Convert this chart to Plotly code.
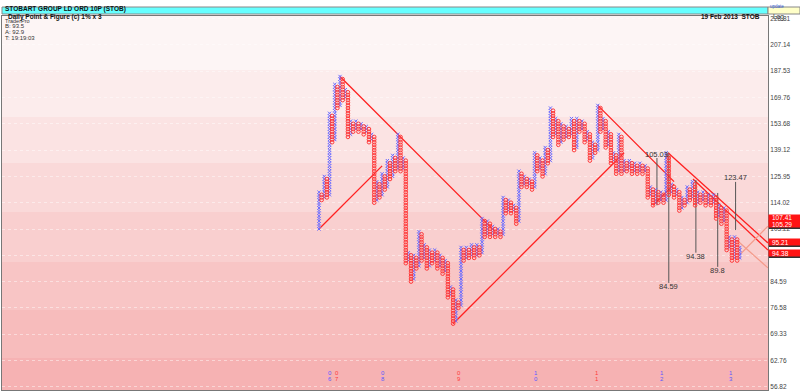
import numpy as np
import plotly.graph_objects as go

# ---------------- data ----------------
BASE_PRICE = 103.22        # price of box 0
BOX_STEP = 1.01            # 1% boxes, 3 box reversal
START_BOX = 0              # first X column starts here

# column turning points (box number of each column's extreme), X/O alternating, X first
turns_2007 = [14, 11, 20, 12, 44, 33, 55, 46, 58, 49, 53, 35,
              41, 37, 41, 37, 40, 36, 39, 33, 36, 10, 18, 12, 21, 15, 26, 19, 28, 22, 36, 22, 27]
turns_2008 = [-13, -9, -20, -10, -15, -1, -12, -6, -15, -8, -13, -8, -15, -10, -17, -12,
              -26, -22, -36, -27, -30, -7, -12, -7, -11, -6, -11, -6, -10]
turns_2010 = [4, -3, 3, -3, 1, -3, 0, -3, 12, 6, 11, 6, 9, 2, 22, 16, 20, 16, 19, 15,
              29, 22, 27, 20, 31, 25, 46, 35, 42, 32, 40, 34, 39, 35, 42, 30, 42, 37, 41, 33,
              37, 26, 33, 29, 47, 37, 42, 31, 37, 25, 29, 21]
turns_2012 = [36, 21, 26, 22, 26, 21, 25, 21, 25, 21, 24, 12, 16, 9, 15, 10, 14, 10, 29, 13,
              17, 12, 15, 7, 12, 9, 16, 11, 18, 9, 14, 10, 14, 9, 13, 9, 13, 4, 9, 2, 8, -8,
              -3, -12, -3, -12, -7]

tick_prices = [228.81, 207.14, 187.53, 169.76, 153.68, 139.12, 125.95, 114.02,
               103.22, 93.44, 84.59, 76.58, 69.33, 62.76, 56.82]

# 45 degree trend lines: (start column, end column, direction)
trend_cols = [(0, 24, 1), (8, 67, -1), (51, 116, 1), (106, 135, -1), (127, 135, 1)]
# other drawn lines: (col0, box0, col1, box1)
channel_lines = [(132.7, 29.0, 170.7, -5.3), (142.2, 19.0, 170.7, -8.0)]
projection_lines = [(158.8, -11.0, 170.7, 1.1), (158.8, -4.2, 170.7, -14.8)]
# vertical counts: (column, top box, bottom box, target label, label box)
count_targets = [(128.5, 27.0, 9.0, "105.03", 28.3),
                 (133.0, 29.0, -20.5, "84.59", -21.8),
                 (143.3, 18.6, -9.0, "94.38", -10.6),
                 (151.6, 13.7, -14.4, "89.8", -15.8),
                 (158.4, 17.9, -0.4, "123.47", 19.6)]
axis_flags = ["107.41", "105.29", "95.21", "94.38"]
axis_flag_px = [218, 224, 242, 253]
year_cols = [4.2, 6.8, 24.3, 53.2, 82.5, 105.7, 130.5, 156.6]
year_top = ["0", "0", "0", "0", "1", "1", "1", "1"]
year_bot = ["6", "7", "8", "9", "0", "1", "2", "3"]
year_col = ["#5a5aff", "#ff3b3b", "#5a5aff", "#ff3b3b", "#5a5aff", "#ff3b3b", "#5a5aff", "#5a5aff"]

# ---------------- build columns ----------------
turns = turns_2007 + turns_2008 + turns_2010 + turns_2012
xs_x, ks_x, xs_o, ks_o = [], [], [], []
prev = None
for i, t in enumerate(turns):
    if i % 2 == 0:
        a = START_BOX if prev is None else prev + 1
        for k in range(a, t + 1):
            xs_x.append(i); ks_x.append(k)
    else:
        for k in range(t, prev):
            xs_o.append(i); ks_o.append(k)
    prev = t


def price(k):
    return BASE_PRICE * BOX_STEP ** np.asarray(k, dtype=float)


# ---------------- layout geometry ----------------
W, H = 800, 391
ML, MR, MT, MB = 2, 32, 16, 1
PW, PH = W - ML - MR, H - MT - MB
X0 = 319.0
COLW = 2.63


def px(xp):
    return (xp - ML) / PW


def py(yp):
    return (H - MB - yp) / PH


x_range = [(ML - X0) / COLW, (W - MR - X0) / COLW]
k_top = (229 - MT) / COLW
k_bot = (229 - (H - MB)) / COLW
y_range = [np.log10(price(k_bot)), np.log10(price(k_top))]

fig = go.Figure()

# background bands
bands = [(16, 70, "#fdf5f5"), (70, 117, "#fcecec"), (117, 163, "#fbe3e3"),
         (163, 212, "#fad9d9"), (212, 262, "#f9cfcf"), (262, 310, "#f8c5c5"),
         (310, 358, "#f7bcbc"), (358, 390, "#f6b2b3")]
for y0, y1, c in bands:
    fig.add_shape(type="rect", xref="paper", yref="paper", x0=0, x1=1, y0=py(y1), y1=py(y0),
                  fillcolor=c, line_width=0, layer="below")

# trend lines
for c0, c1, d in trend_cols:
    k0 = (START_BOX if c0 == 0 else turns[c0])
    fig.add_trace(go.Scatter(x=[c0, c1], y=price([k0, k0 + d * (c1 - c0)]), mode="lines",
                             line=dict(color="#ff2020", width=1.3), hoverinfo="skip"))
for c0, k0, c1, k1 in channel_lines:
    fig.add_trace(go.Scatter(x=[c0, c1], y=price([k0, k1]), mode="lines",
                             line=dict(color="#ff2020", width=1.3), hoverinfo="skip"))
for c0, k0, c1, k1 in projection_lines:
    fig.add_trace(go.Scatter(x=[c0, c1], y=price([k0, k1]), mode="lines",
                             line=dict(color="#f49a8a", width=1.2), hoverinfo="skip"))

# vertical counts
for c, kt, kb, lab, kl in count_targets:
    fig.add_trace(go.Scatter(x=[c, c], y=price([kt, kb]), mode="lines",
                             line=dict(color="#555555", width=1), hoverinfo="skip"))
    fig.add_annotation(x=c, y=np.log10(price(kl)), text=lab, showarrow=False,
                       font=dict(size=7.5, color="#333333", family="Liberation Sans"))

# X and O columns
fig.add_trace(go.Scatter(x=xs_x, y=price(ks_x), mode="markers",
                         marker=dict(symbol="x-thin", size=3.2, line=dict(width=1, color="#6b6bff")),
                         hoverinfo="skip"))
fig.add_trace(go.Scatter(x=xs_o, y=price(ks_o), mode="markers",
                         marker=dict(symbol="circle-open", size=3.6, color="#ff3a3a",
                                     line=dict(width=1, color="#ff3a3a")),
                         hoverinfo="skip"))

# year labels
for c, t, b, col in zip(year_cols, year_top, year_bot, year_col):
    fig.add_annotation(x=c, y=py(378), yref="paper", text=t, showarrow=False,
                       font=dict(size=6, color=col, family="Liberation Sans"))
    fig.add_annotation(x=c, y=py(384), yref="paper", text=b, showarrow=False,
                       font=dict(size=6, color=col, family="Liberation Sans"))

# header
fig.add_shape(type="rect", xref="paper", yref="paper", x0=px(2), x1=px(768), y0=py(14), y1=py(7),
              fillcolor="#66ffff", line=dict(color="#888888", width=1))
fig.add_shape(type="rect", xref="paper", yref="paper", x0=px(768), x1=px(800), y0=py(14), y1=py(7),
              fillcolor="#ffffc8", line=dict(color="#888888", width=1))
fig.add_annotation(x=px(3), y=py(3.5), xref="paper", yref="paper", xanchor="left",
                   text="<b>STOBART GROUP LD ORD 10P (STOB)</b>", showarrow=False,
                   font=dict(size=6.5, color="#111111", family="Liberation Sans"))
fig.add_annotation(x=px(6), y=py(10.5), xref="paper", yref="paper", xanchor="left",
                   text="<b>Daily Point &amp; Figure (c) 1% x 3</b>", showarrow=False,
                   font=dict(size=6.5, color="#111111", family="Liberation Sans"))
fig.add_annotation(x=px(762), y=py(10.5), xref="paper", yref="paper", xanchor="right",
                   text="<b>19 Feb 2013  STOB</b>", showarrow=False,
                   font=dict(size=6.5, color="#111111", family="Liberation Sans"))
fig.add_annotation(x=px(771), y=py(10.5), xref="paper", yref="paper", xanchor="left",
                   text="Log", showarrow=False,
                   font=dict(size=6.5, color="#333333", family="Liberation Sans"))
fig.add_annotation(x=px(786), y=py(2.5), xref="paper", yref="paper",
                   text="update", showarrow=False,
                   font=dict(size=4.5, color="#3355cc", family="Liberation Sans"))
for yp, t in [(15.5, "TraderPro"), (21.5, "B: 93.5"), (27, "A: 92.9"), (33, "T: 19:19:03")]:
    fig.add_annotation(x=px(3), y=py(yp), xref="paper", yref="paper", xanchor="left",
                       text=t, showarrow=False,
                       font=dict(size=5.5 if t == "TraderPro" else 6, color="#333333",
                                 family="Liberation Sans"))

# axis flags
for t, yp in zip(axis_flags, axis_flag_px):
    fig.add_shape(type="rect", xref="paper", yref="paper", x0=px(769), x1=px(800),
                  y0=py(yp + 5), y1=py(yp + 3), fillcolor="#333333", line_width=0)
    fig.add_shape(type="rect", xref="paper", yref="paper", x0=px(768.5), x1=px(800),
                  y0=py(yp + 3.5), y1=py(yp - 3.5), fillcolor="#ff1414", line_width=0)
    fig.add_annotation(x=px(770), y=py(yp), xref="paper", yref="paper", xanchor="left",
                       text=t, showarrow=False,
                       font=dict(size=6.5, color="#ffffff", family="Liberation Sans"))

fig.update_layout(
    width=W, height=H, margin=dict(l=ML, r=MR, t=MT, b=MB),
    paper_bgcolor="#ffffff", plot_bgcolor="#fdf5f5", showlegend=False,
    xaxis=dict(range=x_range, showgrid=False, zeroline=False, showticklabels=False,
               showline=True, linecolor="#777777", mirror=True, fixedrange=True),
    yaxis=dict(type="log", range=y_range, side="right", tickvals=tick_prices,
               ticktext=[f"{v:.2f}" for v in tick_prices], ticks="",
               tickfont=dict(size=6.5, color="#444444", family="Liberation Sans"),
               showgrid=True, gridcolor="rgba(255,255,255,0.45)", griddash="dot", gridwidth=1,
               showline=True, linecolor="#777777", mirror=True, zeroline=False,
               automargin=False, fixedrange=True),
)

fig.write_html("out.html", config={"displayModeBar": False, "staticPlot": True})

# remove the default page margin so the figure sits at the window's corner
with open("out.html", encoding="utf-8") as f:
    html = f.read()
html = html.replace("<head>", "<head><style>html,body{margin:0;padding:0;overflow:hidden;}</style>", 1)
with open("out.html", "w", encoding="utf-8") as f:
    f.write(html)
